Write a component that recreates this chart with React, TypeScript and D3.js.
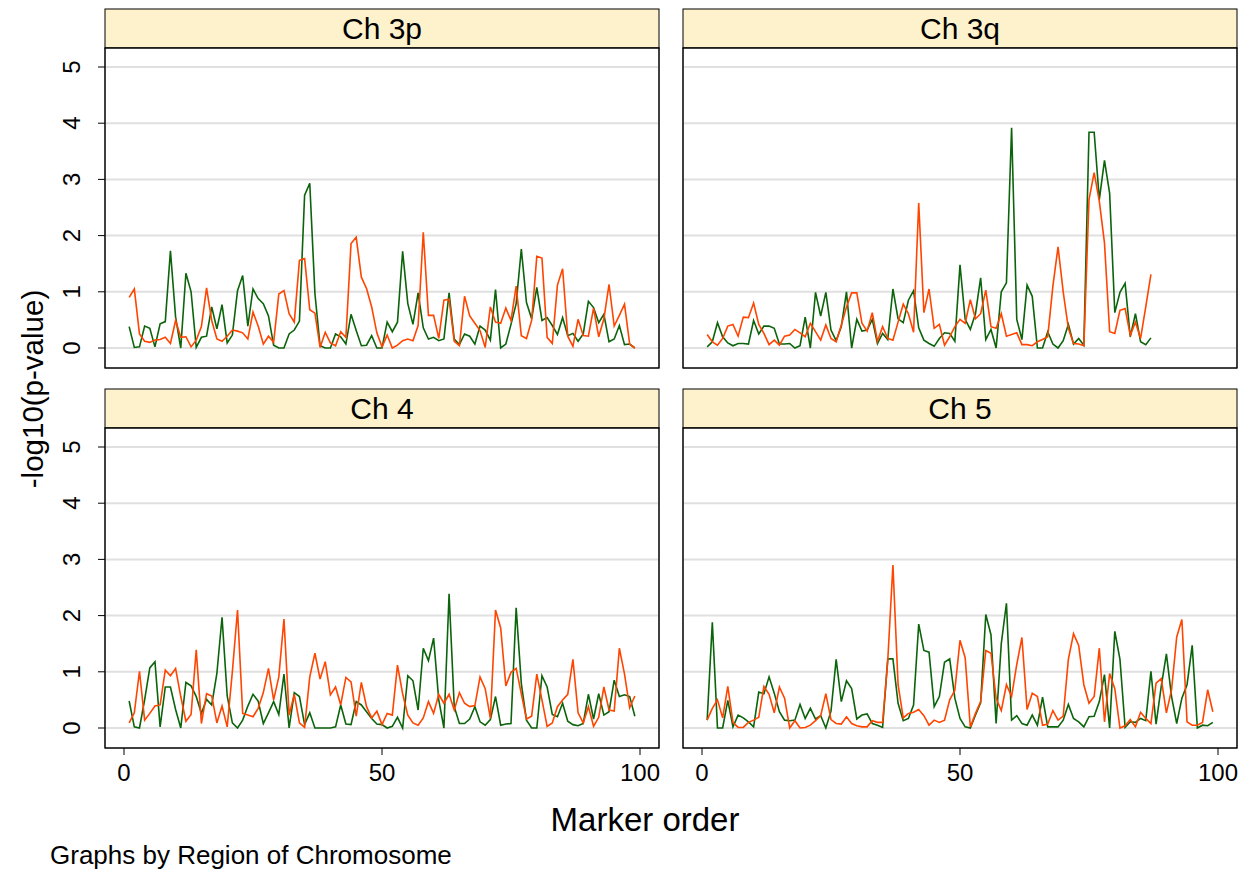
import React from "react";
import * as d3 from "d3";

const panelNames = ["Ch 3p", "Ch 3q", "Ch 4", "Ch 5"];
const yTicks = [0, 1, 2, 3, 4, 5];
const xTicks = [0, 50, 100];

const ch3pGreen = [0.38,0.01,0.02,0.39,0.35,0.02,0.43,0.47,1.73,0.55,0,1.33,1.0,0.01,0.19,0.21,0.73,0.34,0.77,0.09,0.23,1.02,1.29,0.39,1.05,0.88,0.79,0.57,0.05,0,0,0.25,0.32,0.48,2.72,2.93,0.97,0.04,0,0,0.25,0.2,0.07,0.6,0.31,0.04,0.05,0.22,0,0,0.46,0.29,0.46,1.72,0.79,0.42,0.98,0.36,0.16,0.19,0.13,0.16,0.98,0.16,0.06,0.25,0.21,0.07,0.39,0.32,0.14,1.04,0,0.07,0.42,0.79,1.76,0.81,0.52,1.08,0.49,0.54,0.4,0.24,0.54,0.22,0.26,0.12,0.25,0.83,0.72,0.45,0.6,0.11,0.16,0.4,0.06,0.07,0];
const ch3pOrange = [0.9,1.05,0.25,0.12,0.1,0.14,0.15,0.19,0.08,0.49,0.19,0.2,0.02,0.14,0.38,1.07,0.49,0.16,0.12,0.21,0.32,0.3,0.27,0.16,0.64,0.39,0.07,0.21,0.1,0.96,1.02,0.61,0.46,1.56,1.59,0.68,0.62,0.01,0.28,0.09,0.04,0.29,0.19,1.86,1.97,1.26,1.06,0.73,0.27,0.02,0.23,0,0.05,0.13,0.16,0.13,0.4,2.06,0.58,0.58,0.17,0.85,0.87,0.12,0.04,0.92,0.57,0.44,0.31,0.01,0.73,0.46,0.44,0.71,0.49,1.1,0.22,0.17,0.49,1.63,1.6,0.19,0.08,1.12,1.41,0.21,0.03,0.51,0.22,0.21,0.71,0.2,0.52,1.13,0.39,0.58,0.78,0.07,0];
const ch3qGreen = [0.02,0.11,0.45,0.2,0.09,0.04,0.08,0.08,0.07,0.49,0.25,0.39,0.39,0.35,0.07,0.07,0.08,0,0.04,0.55,0,0.99,0.57,0.99,0.32,0.13,0.38,1.0,0,0.51,0.3,0.32,0.51,0.08,0.26,0.15,1.05,0.52,0.45,0.85,1.02,0.36,0.14,0.08,0.03,0.17,0.27,0.26,0.12,1.48,0.51,0.33,0.61,1.25,0.15,0.33,0,1.0,1.16,3.92,0.51,0.15,1.12,0.92,0,0,0.29,0.07,0,0.13,0.42,0.07,0.17,0.05,3.84,3.84,2.64,3.34,2.75,0.63,0.99,1.15,0.2,0.61,0.11,0.06,0.18];
const ch3qOrange = [0.24,0.11,0.05,0.17,0.39,0.42,0.21,0.55,0.54,0.8,0.42,0.26,0.06,0.14,0.05,0.21,0.23,0.33,0.27,0.2,0.44,0.29,0.14,0.41,0.17,0.11,0.41,0.73,0.98,0.98,0.44,0.3,0.63,0.12,0.38,0.17,0.14,0.46,0.78,0.61,0.28,2.58,0.63,1.05,0.35,0.42,0.05,0.2,0.38,0.51,0.44,0.86,0.52,0.61,1.03,0.38,0.35,0.61,0.21,0.24,0.27,0.06,0.06,0.04,0.11,0.15,0.2,1.1,1.8,1.0,0.35,0.08,0.07,0.04,2.64,3.12,2.61,1.87,0.29,0.26,0.67,0.7,0.23,0.46,0.17,0.73,1.31];
const ch4Green = [0.48,0.02,0,0.5,1.07,1.18,0.02,0.73,0.73,0.33,0,0.81,0.75,0.56,0.26,0.51,0.41,0.97,1.97,0.57,0.09,0,0.14,0.39,0.6,0.48,0.08,0.27,0.47,0.24,0.96,0,0.63,0.56,0.06,0.27,0,0,0,0,0.02,0.41,0.07,0.06,0.47,0.41,0.29,0.17,0.07,0.06,0,0.03,0.19,0,0.93,0.84,0.32,1.42,1.2,1.6,0.5,0,2.39,0.38,0.08,0.08,0.16,0.38,0.11,0.05,0.15,0.56,0.05,0.07,0.08,2.14,0.79,0.14,0,0,0.93,0.73,0.24,0.2,0.44,0.12,0.06,0.04,0.08,0.6,0.16,0.61,0.23,0.29,0.85,0.56,0.59,0.56,0.21];
const ch4Orange = [0.09,0.27,1.01,0.14,0.26,0.39,0.41,1.03,0.93,1.06,0.56,0.12,0.24,1.39,0.08,0.61,0.57,0.09,0.39,0.02,1.0,2.1,0.26,0.23,0.2,0.35,0.63,1.06,0.5,0.91,1.94,0.23,0.6,0.09,0.01,0.91,1.33,0.87,1.18,0.59,0.73,0.41,0.9,0.82,0.21,0.81,0.38,0.18,0.3,0.06,0.26,0.23,1.12,0.61,0.23,0.09,0.05,0.18,0.47,0.26,0.6,0.44,0.6,0.32,0.63,0.44,0.38,0.4,0.91,0.7,0.17,2.1,1.78,0.75,0.99,1.06,0.61,0.16,0.21,0.96,0.5,0.03,0.09,0.38,0.5,0.6,1.22,0.27,0.09,0.38,0.03,0.19,0.73,0.32,0.3,1.42,0.96,0.36,0.57];
const ch5Green = [0.14,1.88,0,0,0.49,0.02,0.23,0.18,0.11,0.02,0.64,0.61,0.91,0.62,0.29,0.14,0.13,0.14,0.42,0.17,0.35,0.16,0.22,0,0.3,1.22,0.47,0.84,0.7,0.16,0.23,0.25,0.08,0.05,0.01,1.23,1.23,0.44,0.13,0.17,0.41,1.85,1.38,1.35,0.38,0.56,1.17,1.23,0.53,0.17,0.02,0,0.23,0.45,2.02,1.66,0.08,1.5,2.22,0.14,0.22,0.08,0.05,0.23,0.05,0.55,0.02,0.02,0.02,0.14,0.42,0.17,0.11,0.02,0.2,0.21,0.47,0.95,0,1.72,1.22,0.01,0.11,0.1,0.17,0.13,1.01,0.07,0.74,1.32,0.56,0.08,0.53,0.77,1.47,0,0.05,0.04,0.1];
const ch5Orange = [0.14,0.35,0.5,0.18,0.74,0.1,0.01,0.01,0.1,0.14,0.19,0.74,0.6,0.27,0.73,0.53,0,0.13,0,0.01,0.05,0.13,0.22,0.61,0.15,0.08,0.07,0.2,0.08,0.04,0.02,0.02,0.13,0.1,0.1,1.2,2.9,0.77,0.18,0.26,0.28,0.33,0.22,0.05,0.14,0.1,0.14,0.5,0.67,1.56,1.25,0.02,0.26,0.47,1.38,1.33,0.53,0.31,0.77,0.56,1.13,1.61,0.33,0.62,0.56,0.05,0.07,0.31,0.14,0.21,1.22,1.68,1.47,0.77,0.44,0.56,1.42,0.11,0.97,0.7,0,0.04,0.15,0.02,0.28,0.17,0.08,0.8,0.88,0.27,0.68,1.62,1.93,0.11,0.05,0.05,0.1,0.68,0.29];

const greenSeries = [ch3pGreen, ch3qGreen, ch4Green, ch5Green];
const orangeSeries = [ch3pOrange, ch3qOrange, ch4Orange, ch5Orange];

const GREEN = "#0b640b";
const ORANGE = "#ff4500";
const FONT = "'Liberation Sans', Arial, Helvetica, sans-serif";

const colX = [105, 683];
const panelW = 554;
const headerTop = [9, 389];
const headerH = 39;
const plotH = 320;
const padX = 19;
const padY = 20;

export default function App() {
  const panels = panelNames.map((name, k) => {
    const col = k % 2;
    const row = Math.floor(k / 2);
    const x0 = colX[col];
    const x1 = x0 + panelW;
    const hTop = headerTop[row];
    const pTop = hTop + headerH;
    const pBot = pTop + plotH;
    const x = d3.scaleLinear().domain([0, 100]).range([x0 + padX, x1 - padX]);
    const y = d3.scaleLinear().domain([0, 5]).range([pBot - padY, pTop + 19]);
    const line = d3
      .line<number>()
      .x((_, i) => x(i + 1))
      .y((v) => y(v));
    return (
      <g key={name}>
        <rect x={x0} y={hTop} width={panelW} height={headerH} fill="#fdf2cc" stroke="#000" strokeWidth={1} />
        <text x={(x0 + x1) / 2} y={hTop + 30} textAnchor="middle" fontSize={30} fontFamily={FONT} fill="#000">
          {name}
        </text>
        <rect x={x0} y={pTop} width={panelW} height={plotH} fill="#fff" stroke="#000" strokeWidth={1} />
        {yTicks.map((t) => (
          <line key={t} x1={x0 + 1} x2={x1 - 1} y1={y(t)} y2={y(t)} stroke="#e0e0e0" strokeWidth={2} />
        ))}
        <path d={line(greenSeries[k]) || ""} fill="none" stroke={GREEN} strokeWidth={1.6} strokeLinejoin="miter" />
        <path d={line(orangeSeries[k]) || ""} fill="none" stroke={ORANGE} strokeWidth={1.6} strokeLinejoin="miter" />
        <rect x={x0} y={pTop} width={panelW} height={plotH} fill="none" stroke="#000" strokeWidth={1} />
        {col === 0 &&
          yTicks.map((t) => (
            <g key={"yt" + t}>
              <line x1={x0 - 7} x2={x0} y1={y(t)} y2={y(t)} stroke="#000" strokeWidth={1} />
              <text
                transform={`translate(${x0 - 25},${y(t)}) rotate(-90)`}
                textAnchor="middle"
                fontSize={24}
                fontFamily={FONT}
                fill="#000"
              >
                {t}
              </text>
            </g>
          ))}
        {row === 1 &&
          xTicks.map((t) => (
            <g key={"xt" + t}>
              <line x1={x(t)} x2={x(t)} y1={pBot} y2={pBot + 7} stroke="#000" strokeWidth={1} />
              <text x={x(t)} y={pBot + 33} textAnchor="middle" fontSize={24} fontFamily={FONT} fill="#000">
                {t}
              </text>
            </g>
          ))}
      </g>
    );
  });

  return (
    <svg
      width={1240}
      height={869}
      style={{ position: "absolute", left: 0, top: 0, background: "#fff" }}
    >
      <rect width={1240} height={869} fill="#fff" />
      {panels}
      <text transform="translate(43,389) rotate(-90)" textAnchor="middle" fontSize={29.5} fontFamily={FONT} fill="#000">
        -log10(p-value)
      </text>
      <text x={645} y={831} textAnchor="middle" fontSize={33} fontFamily={FONT} fill="#000">
        Marker order
      </text>
      <text x={50} y={864} fontSize={26} fontFamily={FONT} fill="#000">
        Graphs by Region of Chromosome
      </text>
    </svg>
  );
}
